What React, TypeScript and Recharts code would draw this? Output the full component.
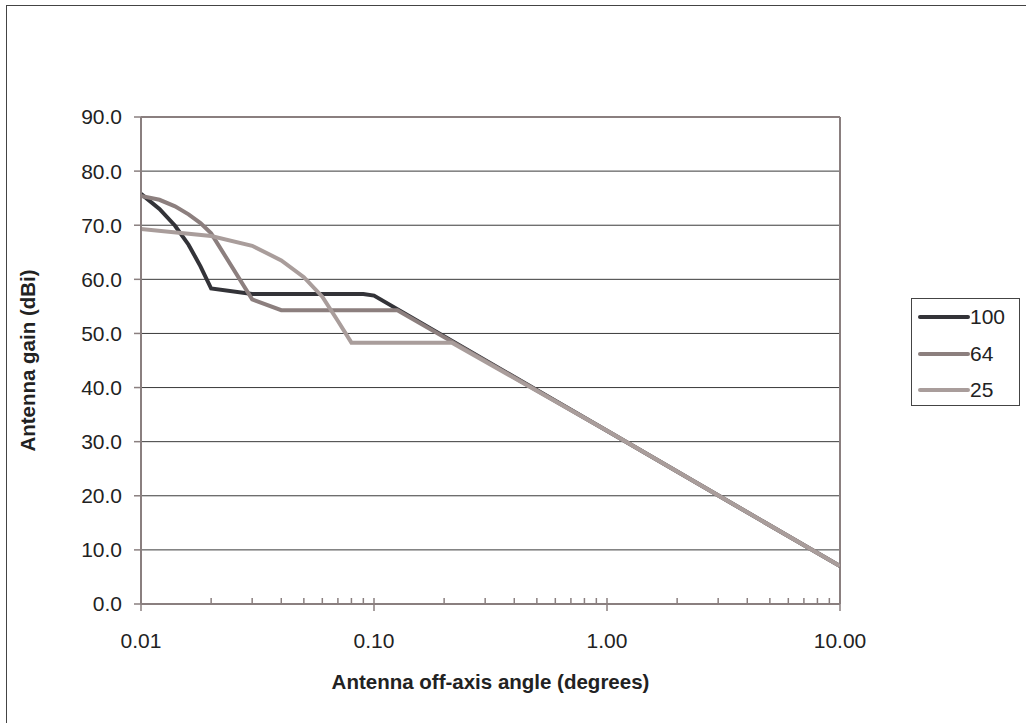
import React from 'react';
import { LineChart, Line, XAxis, YAxis, CartesianGrid, ReferenceLine, Label } from 'recharts';

// off-axis angle (deg) and gain (dBi) per antenna size
const ANGLES_100 = [0.01, 0.012, 0.014, 0.016, 0.018, 0.02, 0.03, 0.09, 0.1, 1, 10];
const GAIN_100 = [75.8, 73.0, 69.9, 66.4, 62.4, 58.3, 57.3, 57.3, 57.0, 32.0, 7.0];

const ANGLES_64 = [0.01, 0.012, 0.014, 0.016, 0.018, 0.02, 0.03, 0.04, 0.126, 1, 10];
const GAIN_64 = [75.4, 74.7, 73.5, 72.0, 70.4, 68.5, 56.3, 54.3, 54.3, 32.0, 7.0];

const ANGLES_25 = [0.01, 0.02, 0.03, 0.04, 0.05, 0.06, 0.07, 0.08, 0.216, 1, 10];
const GAIN_25 = [69.3, 68.0, 66.2, 63.5, 60.4, 56.8, 52.3, 48.3, 48.3, 32.0, 7.0];

const X_TICKS = [
  0.01, 0.02, 0.03, 0.04, 0.05, 0.06, 0.07, 0.08, 0.09,
  0.1, 0.2, 0.3, 0.4, 0.5, 0.6, 0.7, 0.8, 0.9,
  1, 2, 3, 4, 5, 6, 7, 8, 9, 10,
];
const X_MAJOR = [0.01, 0.1, 1, 10];
const Y_TICKS = [0, 10, 20, 30, 40, 50, 60, 70, 80, 90];

const FONT = '"Liberation Sans", Arial, sans-serif';
const AXIS_COLOR = '#8a7f7f';
const TEXT_COLOR = '#222';
const FRAME_COLOR = '#444';

const toPoints = (angles: number[], gains: number[]) =>
  angles.map((angle, i) => ({ angle, gain: gains[i] }));

const SERIES = [
  { name: '100', color: '#333338', data: toPoints(ANGLES_100, GAIN_100) },
  { name: '64', color: '#8c7f7e', data: toPoints(ANGLES_64, GAIN_64) },
  { name: '25', color: '#a99d9b', data: toPoints(ANGLES_25, GAIN_25) },
];

const AngleTick = ({ x, y, payload }: any) => {
  const major = X_MAJOR.includes(payload.value);
  return (
    <g>
      <line x1={x} x2={x} y1={y - 6} y2={major ? y + 7 : y} stroke={AXIS_COLOR} strokeWidth={1.5} />
      {major && (
        <text x={x} y={y + 44} textAnchor="middle" fill={TEXT_COLOR} fontSize={21} fontFamily={FONT}>
          {payload.value.toFixed(2)}
        </text>
      )}
    </g>
  );
};

const LegendBox = () => (
  <div
    style={{
      position: 'absolute',
      left: 911,
      top: 298,
      border: `1px solid ${FRAME_COLOR}`,
      background: '#fff',
      width: 109,
      height: 108,
      boxSizing: 'border-box',
      fontFamily: FONT,
      fontSize: 21,
      color: TEXT_COLOR,
    }}
  >
    {SERIES.map((s) => (
      <div key={s.name} style={{ display: 'flex', alignItems: 'center', height: 36.5 }}>
        <span
          style={{
            display: 'inline-block',
            width: 52,
            height: 4,
            borderRadius: 2,
            background: s.color,
            marginLeft: 6,
          }}
        />
        <span>{s.name}</span>
      </div>
    ))}
  </div>
);

export default function App() {
  return (
    <div style={{ position: 'absolute', left: 0, top: 0, width: 1026, height: 723, overflow: 'hidden', background: '#fff' }}>
      {/* outer chart frame: only the left and top edges are on the page */}
      <div style={{ position: 'absolute', left: 6, top: 5, width: 1, height: 718, background: FRAME_COLOR }} />
      <div style={{ position: 'absolute', left: 6, top: 5, width: 1020, height: 1, background: FRAME_COLOR }} />
      <div style={{ position: 'absolute', left: 0, top: 0 }}>
        <LineChart width={1026} height={723} margin={{ top: 117, right: 186, bottom: 59, left: 0 }}>
          <CartesianGrid vertical={false} stroke="#3a3a3a" strokeWidth={1} />
          <XAxis
            dataKey="angle"
            type="number"
            scale="log"
            domain={[0.01, 10]}
            ticks={X_TICKS}
            interval={0}
            allowDataOverflow
            height={60}
            tickSize={0}
            tickMargin={0}
            tickLine={false}
            tick={<AngleTick />}
            axisLine={{ stroke: AXIS_COLOR, strokeWidth: 2 }}
            label={
              <Label
                content={({ viewBox }: any) => (
                  <text
                    x={viewBox.x + viewBox.width / 2}
                    y={viewBox.y + 85}
                    textAnchor="middle"
                    fill={TEXT_COLOR}
                    fontSize={20.5}
                    fontWeight="bold"
                    fontFamily={FONT}
                  >
                    Antenna off-axis angle (degrees)
                  </text>
                )}
              />
            }
          />
          <YAxis
            type="number"
            domain={[0, 90]}
            ticks={Y_TICKS}
            width={141}
            tickSize={7}
            tickMargin={12}
            tickFormatter={(v: number) => v.toFixed(1)}
            tick={{ fill: TEXT_COLOR, fontSize: 21, fontFamily: FONT }}
            tickLine={{ stroke: AXIS_COLOR, strokeWidth: 1.5 }}
            axisLine={{ stroke: AXIS_COLOR, strokeWidth: 2 }}
            label={
              <Label
                content={({ viewBox }: any) => {
                  const cx = viewBox.x + 27;
                  const cy = viewBox.y + viewBox.height / 2;
                  return (
                    <text
                      x={cx}
                      y={cy}
                      transform={`rotate(-90 ${cx} ${cy})`}
                      textAnchor="middle"
                      dominantBaseline="central"
                      fill={TEXT_COLOR}
                      fontSize={20.5}
                      fontWeight="bold"
                      fontFamily={FONT}
                    >
                      Antenna gain (dBi)
                    </text>
                  );
                }}
              />
            }
          />
          <ReferenceLine y={90} stroke={AXIS_COLOR} strokeWidth={2} />
          <ReferenceLine x={10} stroke={AXIS_COLOR} strokeWidth={2} />
          {SERIES.map((s) => (
            <Line
              key={s.name}
              data={s.data}
              dataKey="gain"
              name={s.name}
              type="linear"
              stroke={s.color}
              strokeWidth={4}
              dot={false}
              activeDot={false}
              isAnimationActive={false}
            />
          ))}
        </LineChart>
      </div>
      <LegendBox />
    </div>
  );
}
